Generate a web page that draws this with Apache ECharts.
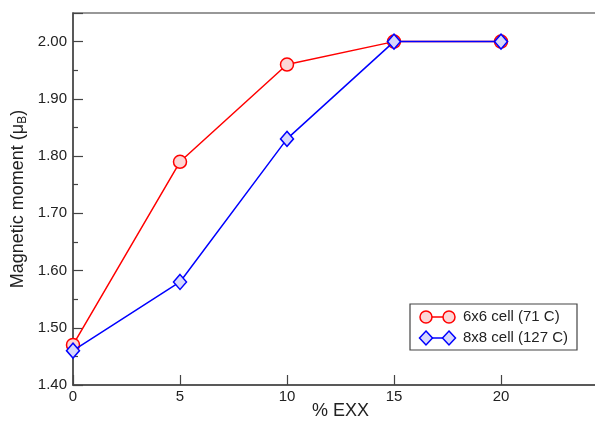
<!DOCTYPE html>
<html>
<head>
<meta charset="utf-8">
<script src="https://cdn.jsdelivr.net/npm/echarts@6/dist/echarts.min.js"></script>
<style>html,body{margin:0;padding:0;background:#fff;}#c{width:595px;height:421px;}</style>
</head>
<body>
<div id="c"></div>
<script>
var exx = [0, 5, 10, 15, 20];
var cell6 = [1.47, 1.79, 1.96, 2.00, 2.00];
var cell8 = [1.46, 1.58, 1.83, 2.00, 2.00];
var seriesNames = ['6x6 cell (71 C)', '8x8 cell (127 C)'];
var xTicks = [0, 5, 10, 15, 20];
var yTicks = [1.40, 1.50, 1.60, 1.70, 1.80, 1.90, 2.00];

var FONT = 'Liberation Sans';
var chart = echarts.init(document.getElementById('c'), null, {renderer: 'canvas'});

function pairs(xs, ys) { return xs.map(function (x, i) { return [x, ys[i]]; }); }

chart.setOption({
  animation: false,
  backgroundColor: '#fff',
  grid: {left: 73, top: 13, right: -13, bottom: 36, outerBoundsMode: 'none', containLabel: false,
         show: true, borderColor: '#777', borderWidth: 1.5, backgroundColor: 'transparent'},
  xAxis: {
    type: 'value', min: 0, max: 25, interval: 5,
    name: '% EXX', nameLocation: 'middle', nameGap: 17, nameMoveOverlap: false,
    nameTextStyle: {fontFamily: FONT, fontSize: 18, color: '#222'},
    axisLine: {show: true, lineStyle: {color: '#444', width: 1.5}},
    axisTick: {show: true, inside: true, length: 10, lineStyle: {color: '#444', width: 1.2}},
    minorTick: {show: false},
    splitLine: {show: false},
    axisLabel: {
      fontFamily: FONT, fontSize: 15, color: '#222', margin: 4,
      formatter: function (v) { return xTicks.indexOf(v) >= 0 ? String(v) : ''; }
    }
  },
  yAxis: {
    type: 'value', min: 1.40, max: 2.05, interval: 0.1,
    name: 'Magnetic moment (μ{sub|B})', nameLocation: 'middle', nameGap: 44, nameMoveOverlap: false,
    nameTextStyle: {
      fontFamily: FONT, fontSize: 18, color: '#222',
      rich: {sub: {fontFamily: FONT, fontSize: 12, color: '#222', padding: [9, 0, 0, 0]}}
    },
    axisLine: {show: true, lineStyle: {color: '#444', width: 1.5}},
    axisTick: {show: true, inside: true, length: 10, lineStyle: {color: '#444', width: 1.2}},
    minorTick: {show: true, splitNumber: 2, length: 5, lineStyle: {color: '#444', width: 1.2}},
    splitLine: {show: false},
    axisLabel: {
      fontFamily: FONT, fontSize: 15, color: '#222', margin: 6,
      formatter: function (v) {
        for (var i = 0; i < yTicks.length; i++) if (Math.abs(yTicks[i] - v) < 1e-6) return yTicks[i].toFixed(2);
        return '';
      }
    }
  },
  series: [
    {
      name: seriesNames[0], type: 'line', data: pairs(exx, cell6),
      symbol: 'circle', symbolSize: 13,
      lineStyle: {color: '#ff0000', width: 1.5},
      itemStyle: {color: '#fcd6d6', borderColor: '#ff0000', borderWidth: 1.5},
      z: 2
    },
    {
      name: seriesNames[1], type: 'line', data: pairs(exx, cell8),
      symbol: 'diamond', symbolSize: [13, 15],
      lineStyle: {color: '#0000ff', width: 1.5},
      itemStyle: {color: '#d8d8fc', borderColor: '#0000ff', borderWidth: 1.5},
      z: 3
    }
  ],
  graphic: [
    {type: 'rect', shape: {x: 410, y: 304, width: 167, height: 46}, style: {fill: '#fff', stroke: '#444', lineWidth: 1.2}, z: 10},
    {type: 'line', shape: {x1: 426, y1: 317, x2: 449, y2: 317}, style: {stroke: '#ff0000', lineWidth: 1.5}, z: 11},
    {type: 'circle', shape: {cx: 426, cy: 317, r: 6}, style: {fill: '#fcd6d6', stroke: '#ff0000', lineWidth: 1.5}, z: 12},
    {type: 'circle', shape: {cx: 449, cy: 317, r: 6}, style: {fill: '#fcd6d6', stroke: '#ff0000', lineWidth: 1.5}, z: 12},
    {type: 'text', x: 463, y: 317, style: {text: seriesNames[0], fontFamily: FONT, fontSize: 15, fill: '#222', verticalAlign: 'middle'}, z: 12},
    {type: 'line', shape: {x1: 426, y1: 338, x2: 449, y2: 338}, style: {stroke: '#0000ff', lineWidth: 1.5}, z: 11},
    {type: 'polygon', shape: {points: [[426, 331], [432.5, 338], [426, 345], [419.5, 338]]}, style: {fill: '#d8d8fc', stroke: '#0000ff', lineWidth: 1.5}, z: 12},
    {type: 'polygon', shape: {points: [[449, 331], [455.5, 338], [449, 345], [442.5, 338]]}, style: {fill: '#d8d8fc', stroke: '#0000ff', lineWidth: 1.5}, z: 12},
    {type: 'text', x: 463, y: 338, style: {text: seriesNames[1], fontFamily: FONT, fontSize: 15, fill: '#222', verticalAlign: 'middle'}, z: 12}
  ]
});
</script>
</body>
</html>
